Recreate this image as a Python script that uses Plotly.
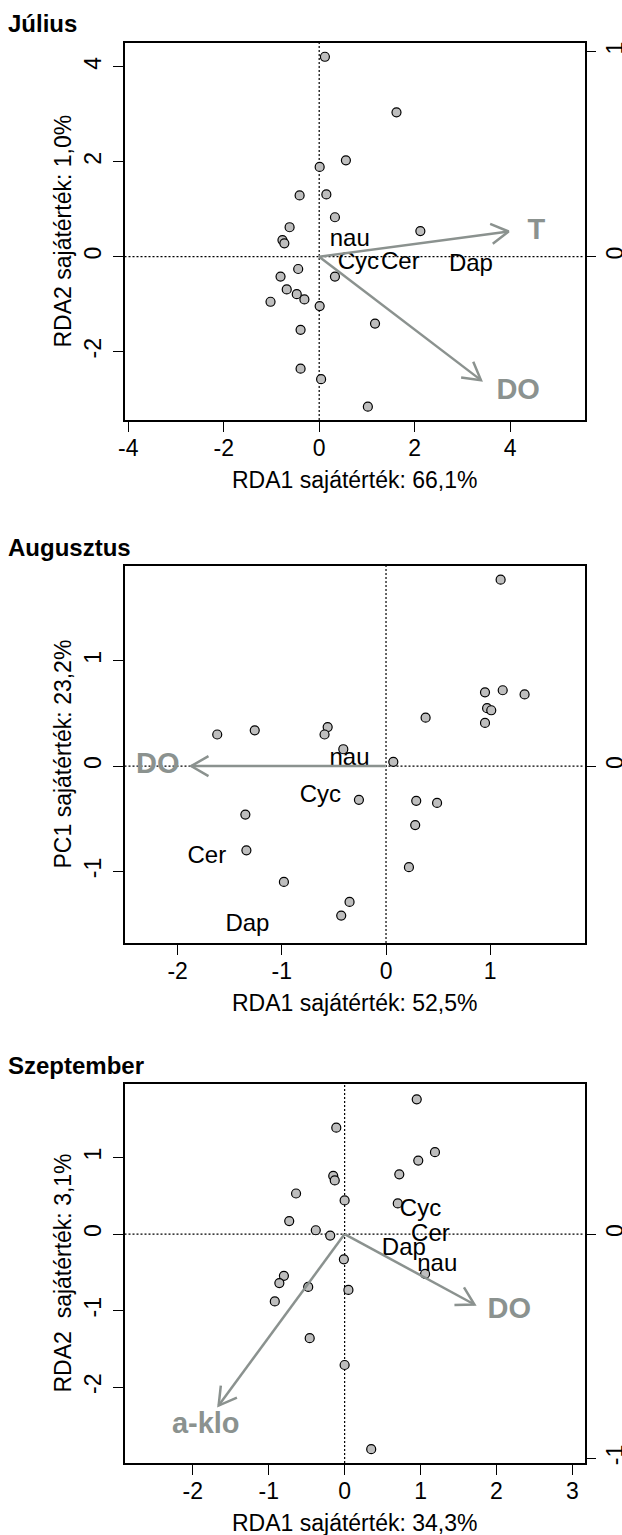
import math
import plotly.graph_objects as go

# ---------------- Július ----------------
jul_rda1 = [0.12, 1.62, 0.56, 0.01, -0.41, 0.15, 0.33, -0.62, -0.77, -0.73, 2.12, -0.44,
            0.33, -0.81, -0.68, -0.47, -0.31, -1.02, 0.01, 1.17, -0.39, -0.39, 0.04, 1.02]
jul_rda2 = [4.21, 3.04, 2.03, 1.89, 1.29, 1.31, 0.83, 0.62, 0.35, 0.28, 0.54, -0.26,
            -0.42, -0.42, -0.69, -0.79, -0.90, -0.95, -1.04, -1.41, -1.54, -2.36, -2.58, -3.16]
jul_species = ["nau", "Cyc", "Cer", "Dap"]
jul_sp_x = [0.64, 0.82, 1.70, 3.18]
jul_sp_y = [0.35, -0.13, -0.13, -0.18]
jul_env = ["T", "DO"]
jul_env_x = [3.97, 3.39]
jul_env_y = [0.53, -2.60]
jul_env_lx = [4.55, 4.17]
jul_env_ly = [0.53, -2.84]
jul_xticks = [-4, -2, 0, 2, 4]
jul_yticks = [-2, 0, 2, 4]

# ---------------- Augusztus ----------------
aug_rda1 = [1.10, 0.95, 1.12, 1.33, 0.97, 1.01, 0.38, 0.95, -1.62, -1.26, -0.56, -0.59,
            -0.41, 0.07, -0.26, 0.29, 0.49, -1.35, 0.28, -1.34, 0.22, -0.98, -0.35, -0.43]
aug_pc1 = [1.77, 0.70, 0.72, 0.68, 0.55, 0.53, 0.46, 0.41, 0.30, 0.34, 0.37, 0.30,
           0.16, 0.04, -0.32, -0.33, -0.35, -0.46, -0.56, -0.80, -0.96, -1.10, -1.29, -1.42]
aug_species = ["nau", "Cyc", "Cer", "Dap"]
aug_sp_x = [-0.35, -0.63, -1.72, -1.33]
aug_sp_y = [0.07, -0.28, -0.86, -1.51]
aug_env = ["DO"]
aug_env_x = [-1.87]
aug_env_y = [0.0]
aug_env_lx = [-2.19]
aug_env_ly = [0.0]
aug_xticks = [-2, -1, 0, 1]
aug_yticks = [-1, 0, 1]

# ---------------- Szeptember ----------------
sep_rda1 = [0.95, -0.11, 1.19, 0.97, 0.72, -0.15, -0.13, -0.64, 0.00, 0.70, -0.73, -0.38,
            -0.19, -0.01, 1.06, -0.80, -0.86, -0.48, 0.05, -0.92, -0.46, 0.00, 0.35]
sep_rda2 = [1.76, 1.39, 1.07, 0.96, 0.78, 0.76, 0.70, 0.53, 0.44, 0.40, 0.17, 0.05,
            -0.02, -0.33, -0.52, -0.545, -0.64, -0.69, -0.73, -0.88, -1.36, -1.71, -2.81]
sep_species = ["Cyc", "Cer", "Dap", "nau"]
sep_sp_x = [1.00, 1.13, 0.78, 1.22]
sep_sp_y = [0.32, -0.01, -0.20, -0.41]
sep_env = ["a-klo", "DO"]
sep_env_x = [-1.66, 1.71]
sep_env_y = [-2.24, -0.92]
sep_env_lx = [-1.83, 2.17]
sep_env_ly = [-2.50, -1.00]
sep_xticks = [-2, -1, 0, 1, 2, 3]
sep_yticks = [-3, -2, -1, 0, 1]

# species-score axis (right side): length of one unit in site units
right_unit = [4.32, 2.40, 2.93]

titles = ["Július", "Augusztus", "Szeptember"]
xtitles = ["RDA1 sajátérték: 66,1%", "RDA1 sajátérték: 52,5%", "RDA1 sajátérték: 34,3%"]
ytitles = ["RDA2 sajátérték: 1,0%", "PC1 sajátérték: 23,2%",
           "RDA2\u00a0 sajátérték: 3,1%"]

# ---------------- layout geometry (pixels) ----------------
W, H = 622, 1535
FONT = "Liberation Sans, Arial, Helvetica, sans-serif"
ARROW = "#8b928f"
BOX_L, BOX_R = 124.5, 584.5
tops = [43, 566, 1084]
bottoms = [420, 943, 1463]
xranges = [[-4.08, 5.56], [-2.51, 1.905], [-2.90, 3.16]]
yranges = [[-3.44, 4.50], [-1.68, 1.90], [-2.99, 1.96]]

panels = [
    dict(px=jul_rda1, py=jul_rda2, sp=jul_species, spx=jul_sp_x, spy=jul_sp_y,
         env=jul_env, ex=jul_env_x, ey=jul_env_y, elx=jul_env_lx, ely=jul_env_ly,
         xt=jul_xticks, yt=jul_yticks),
    dict(px=aug_rda1, py=aug_pc1, sp=aug_species, spx=aug_sp_x, spy=aug_sp_y,
         env=aug_env, ex=aug_env_x, ey=aug_env_y, elx=aug_env_lx, ely=aug_env_ly,
         xt=aug_xticks, yt=aug_yticks),
    dict(px=sep_rda1, py=sep_rda2, sp=sep_species, spx=sep_sp_x, spy=sep_sp_y,
         env=sep_env, ex=sep_env_x, ey=sep_env_y, elx=sep_env_lx, ely=sep_env_ly,
         xt=sep_xticks, yt=sep_yticks),
]

fig = go.Figure()
shapes = []
annotations = []
HEAD_LEN = 20.0
HEAD_ANG = math.radians(30)

for i, p in enumerate(panels):
    n = i + 1
    xa = "x" if n == 1 else f"x{n}"
    ya = "y" if n == 1 else f"y{n}"
    yr_name = f"y{n + 3}"
    xr, yr = xranges[i], yranges[i]
    sx = (BOX_R - BOX_L) / (xr[1] - xr[0])
    sy = (bottoms[i] - tops[i]) / (yr[1] - yr[0])

    # reference lines through the origin
    shapes.append(dict(type="line", xref=xa, yref=f"{ya} domain", x0=0, x1=0, y0=0, y1=1,
                       line=dict(color="black", width=1.2, dash="2px,2px"), layer="below"))
    shapes.append(dict(type="line", xref=f"{xa} domain", yref=ya, x0=0, x1=1, y0=0, y1=0,
                       line=dict(color="black", width=1.2, dash="2px,2px"), layer="below"))

    # site scores
    fig.add_trace(go.Scatter(x=p["px"], y=p["py"], mode="markers", xaxis=xa, yaxis=ya,
                             marker=dict(size=9, color="#bebebe",
                                         line=dict(color="black", width=1.2)),
                             hoverinfo="skip"))
    # species labels
    fig.add_trace(go.Scatter(x=p["spx"], y=p["spy"], mode="text", text=p["sp"],
                             textposition="middle center", xaxis=xa, yaxis=ya,
                             textfont=dict(family=FONT, size=24, color="black"),
                             hoverinfo="skip"))
    # environmental arrows with open heads
    for tx, ty in zip(p["ex"], p["ey"]):
        theta = math.atan2(ty * sy, tx * sx)
        hx, hy = [], []
        for s in (1, -1):
            a = theta + s * HEAD_ANG
            hx.append(tx - HEAD_LEN * math.cos(a) / sx)
            hy.append(ty - HEAD_LEN * math.sin(a) / sy)
        fig.add_trace(go.Scatter(x=[0, tx, None, hx[0], tx, hx[1]],
                                 y=[0, ty, None, hy[0], ty, hy[1]],
                                 mode="lines", xaxis=xa, yaxis=ya,
                                 line=dict(color=ARROW, width=2.5),
                                 hoverinfo="skip"))
    fig.add_trace(go.Scatter(x=p["elx"], y=p["ely"], mode="text",
                             text=[f"<b>{t}</b>" for t in p["env"]],
                             textposition="middle center", xaxis=xa, yaxis=ya,
                             textfont=dict(family=FONT, size=29, color=ARROW),
                             hoverinfo="skip"))
    # dummy trace for the right-hand species axis
    fig.add_trace(go.Scatter(x=[None], y=[None], xaxis=xa, yaxis=yr_name,
                             showlegend=False, hoverinfo="skip"))

    ydom = [1 - bottoms[i] / H, 1 - tops[i] / H]
    axis_common = dict(showgrid=False, zeroline=False, ticks="outside", ticklen=10,
                       tickwidth=1.2, tickcolor="black", automargin=False,
                       tickfont=dict(family=FONT, size=23, color="black"))
    fig.layout[f"xaxis{'' if n == 1 else n}"] = dict(
        domain=[BOX_L / W, BOX_R / W], anchor=ya, range=xr,
        tickvals=p["xt"], ticktext=[str(v) for v in p["xt"]],
        showline=True, mirror=True, linecolor="black", linewidth=1.5,
        ticklabelstandoff=-3, **axis_common)
    fig.layout[f"yaxis{'' if n == 1 else n}"] = dict(
        domain=ydom, anchor=xa, range=yr,
        tickvals=p["yt"], ticktext=[str(v) for v in p["yt"]], tickangle=-90,
        showline=True, mirror=True, linecolor="black", linewidth=1.5,
        ticklabelstandoff=3, **axis_common)
    k = right_unit[i]
    fig.layout[f"yaxis{n + 3}"] = dict(
        overlaying=ya, side="right", anchor=xa, range=[yr[0] / k, yr[1] / k],
        tickvals=[-1, 0, 1], ticktext=["-1", "0", "1"], tickangle=-90,
        showline=False, ticklabelstandoff=0, **axis_common)

    # panel title and axis titles
    annotations.append(dict(text=f"<b>{titles[i]}</b>", xref="paper", yref="paper",
                            x=6 / W, y=1 - (tops[i] - 19) / H, xanchor="left",
                            yanchor="middle", showarrow=False,
                            font=dict(family=FONT, size=24, color="black")))
    annotations.append(dict(text=xtitles[i], xref="paper", yref="paper",
                            x=(BOX_L + BOX_R) / 2 / W, y=1 - (bottoms[i] + 60) / H,
                            xanchor="center", yanchor="middle", showarrow=False,
                            font=dict(family=FONT, size=23, color="black")))
    annotations.append(dict(text=ytitles[i], xref="paper", yref="paper",
                            x=62 / W, y=1 - (tops[i] + bottoms[i]) / 2 / H,
                            xanchor="center", yanchor="middle", textangle=-90,
                            showarrow=False,
                            font=dict(family=FONT, size=23, color="black")))

fig.update_layout(width=W, height=H, margin=dict(l=0, r=0, t=0, b=0),
                  paper_bgcolor="white", plot_bgcolor="white", showlegend=False,
                  shapes=shapes, annotations=annotations)

fig.write_html("out.html")
